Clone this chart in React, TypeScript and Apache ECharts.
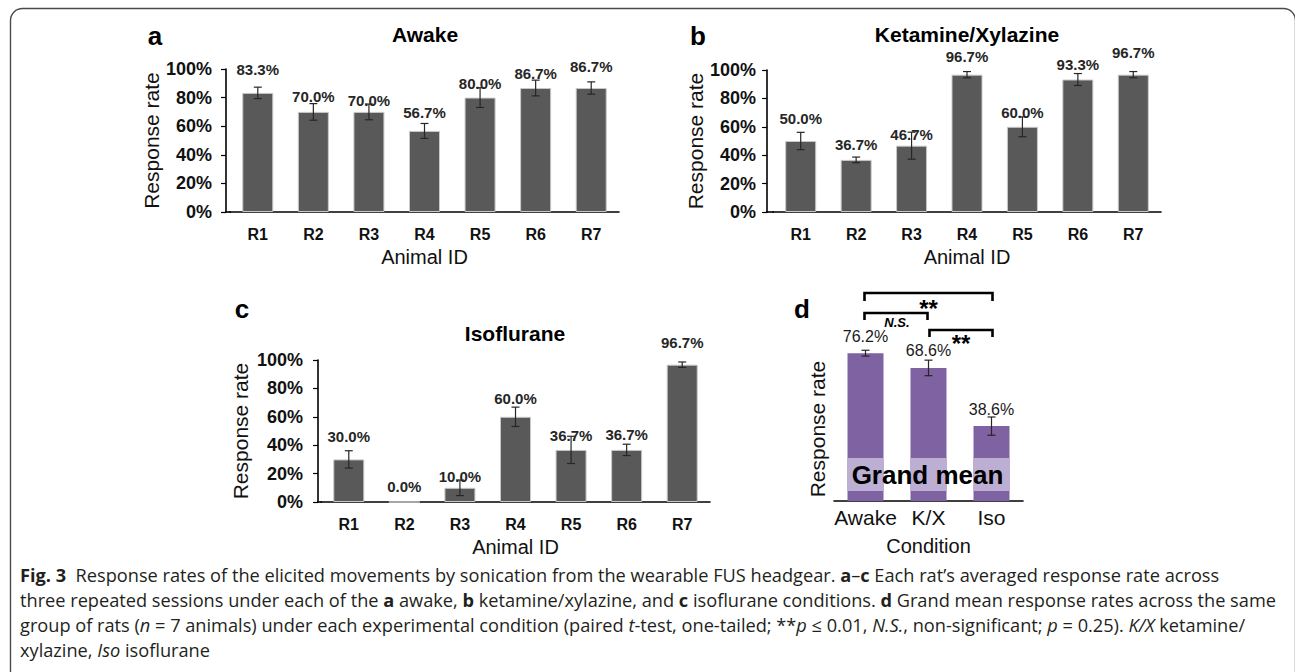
import React, { useEffect, useRef } from "react";
import * as echarts from "echarts";

// ---------- data ----------
const ANIMALS = ["R1", "R2", "R3", "R4", "R5", "R6", "R7"];
const AWAKE = [83.3, 70.0, 70.0, 56.7, 80.0, 86.7, 86.7];
const AWAKE_ERR = [4.0, 5.8, 5.5, 5.2, 6.9, 5.5, 4.3];
const KX = [50.0, 36.7, 46.7, 96.7, 60.0, 93.3, 96.7];
const KX_ERR = [6.1, 2.0, 9.5, 2.2, 7.0, 4.2, 2.2];
const ISO = [30.0, 0.0, 10.0, 60.0, 36.7, 36.7, 96.7];
const ISO_ERR = [6.1, 0, 5.5, 6.8, 9.6, 4.0, 1.9];
const CONDITIONS = ["Awake", "K/X", "Iso"];
const GRAND = [76.2, 68.6, 38.6];
const GRAND_ERR = [1.5, 4.0, 4.7];
const Y_MIN = 0;
const Y_MAX = 100;
const Y_STEP = 20;

// ---------- style / layout constants ----------
const FONT = "'Liberation Sans', Arial, sans-serif";
const CAP_FONT = "'Open Sans', sans-serif";
const CAP_SIZE = 18.2;
const BAR_GRAY = "#595959";
const PURPLE = "#7f62a1";
const BAND = "#bdaed4";
const BAND_FROM = 5.2;
const BAND_TO = 22.2;
// per-category label lift (label centre above bar top), as placed in the original figure
const LABEL_LIFT = [23, 15, 11, 18, 14, 15, 22];

const PANELS = [
  { left: 230, top: 69, width: 389, height: 143, axisX: 226, labelMargin: 14, nameGap: 62, data: AWAKE, err: AWAKE_ERR,
    title: "Awake", titleX: 425, titleY: 34, letter: "a", lx: 155, ly: 36 },
  { left: 773, top: 70, width: 388, height: 142, axisX: 767, labelMargin: 11, nameGap: 59, data: KX, err: KX_ERR,
    title: "Ketamine/Xylazine", titleX: 967, titleY: 34, letter: "b", lx: 698, ly: 36 },
  { left: 321, top: 360, width: 389, height: 142, axisX: 318, labelMargin: 15, nameGap: 67, data: ISO, err: ISO_ERR,
    title: "Isoflurane", titleX: 515, titleY: 333, letter: "c", lx: 242, ly: 309 },
];
const D = { left: 834, top: 307, width: 189, height: 194 };

const CAPTION = [
  "{b|Fig. 3}  Response rates of the elicited movements by sonication from the wearable FUS headgear. {b|a}–{b|c} Each rat’s averaged response rate across",
  "three repeated sessions under each of the {b|a} awake, {b|b} ketamine/xylazine, and {b|c} isoflurane conditions. {b|d} Grand mean response rates across the same",
  "group of rats ({i|n} = 7 animals) under each experimental condition (paired {i|t}-test, one-tailed; **{i|p} ≤ 0.01, {i|N.S.}, non-significant; {i|p} = 0.25). {i|K/X} ketamine/",
  "xylazine, {i|Iso} isoflurane",
];

function errorSeries(xIdx: number, values: number[], errs: number[], cap: number) {
  return {
    type: "custom",
    xAxisIndex: xIdx,
    yAxisIndex: xIdx,
    z: 5,
    silent: true,
    encode: { x: 0, y: 1 },
    data: values.map((v, i) => [i, v, errs[i]]),
    renderItem: (params: any, api: any) => {
      const i = api.value(0);
      const v = api.value(1);
      const e = api.value(2);
      if (!e) return null;
      const top = api.coord([i, v + e]);
      const bot = api.coord([i, v - e]);
      const x = top[0];
      const st = { stroke: "#262626", lineWidth: 1.2 };
      return {
        type: "group",
        children: [
          { type: "line", shape: { x1: x, y1: top[1], x2: x, y2: bot[1] }, style: st },
          { type: "line", shape: { x1: x - cap, y1: top[1], x2: x + cap, y2: top[1] }, style: st },
          { type: "line", shape: { x1: x - cap, y1: bot[1], x2: x + cap, y2: bot[1] }, style: st },
        ],
      };
    },
  };
}

function buildOption() {
  const grid: any[] = [];
  const xAxis: any[] = [];
  const yAxis: any[] = [];
  const series: any[] = [];

  PANELS.forEach((p, k) => {
    grid.push({ left: p.left, top: p.top, width: p.width, height: p.height });
    xAxis.push({
      type: "category",
      gridIndex: k,
      data: ANIMALS,
      name: "Animal ID",
      nameLocation: "middle",
      nameGap: 35,
      nameTextStyle: { fontFamily: FONT, fontSize: 20, color: "#111" },
      axisLine: { lineStyle: { color: "#000", width: 1.6 } },
      axisTick: { show: false },
      axisLabel: { interval: 0, fontFamily: FONT, fontSize: 16, fontWeight: "bold", color: "#111", margin: 14 },
    });
    yAxis.push({
      type: "value",
      gridIndex: k,
      min: Y_MIN,
      max: Y_MAX,
      interval: Y_STEP,
      offset: p.left - p.axisX,
      name: "Response rate",
      nameLocation: "middle",
      nameRotate: 90,
      nameGap: p.nameGap,
      nameTextStyle: { fontFamily: FONT, fontSize: 21, color: "#111" },
      axisLine: { show: true, lineStyle: { color: "#000", width: 1.6 } },
      axisTick: { show: true, inside: false, length: 5, lineStyle: { color: "#000", width: 1.2 } },
      axisLabel: { formatter: "{value}%", fontFamily: FONT, fontSize: 18, fontWeight: "bold", color: "#111", margin: p.labelMargin },
      splitLine: { show: false },
    });
    series.push({
      type: "bar",
      xAxisIndex: k,
      yAxisIndex: k,
      barWidth: 31,
      itemStyle: { color: BAR_GRAY, borderColor: "#c8c8c8", borderWidth: 1 },
      data: p.data.map((v, i) => ({
        value: v,
        label: { distance: LABEL_LIFT[i] - 7.5 },
      })),
      label: {
        show: true,
        position: "top",
        formatter: (d: any) => `${Number(d.value).toFixed(1)}%`,
        fontFamily: FONT,
        fontSize: 15,
        fontWeight: "bold",
        color: "#262626",
      },
    });
    series.push(errorSeries(k, p.data, p.err, 4));
  });

  // panel d
  grid.push({ left: D.left, top: D.top, width: D.width, height: D.height });
  xAxis.push({
    type: "category",
    gridIndex: 3,
    data: CONDITIONS,
    name: "Condition",
    nameLocation: "middle",
    nameGap: 35,
    nameTextStyle: { fontFamily: FONT, fontSize: 20, color: "#111" },
    axisLine: { lineStyle: { color: "#000", width: 1.6 } },
    axisTick: { show: false },
    axisLabel: { interval: 0, fontFamily: FONT, fontSize: 21, color: "#111", margin: 6 },
  });
  yAxis.push({
    type: "value",
    gridIndex: 3,
    min: Y_MIN,
    max: Y_MAX,
    interval: Y_STEP,
    show: true,
    axisLine: { show: false },
    axisTick: { show: false },
    axisLabel: { show: false },
    splitLine: { show: false },
  });
  series.push({
    type: "bar",
    xAxisIndex: 3,
    yAxisIndex: 3,
    barWidth: 36,
    barGap: "-100%",
    itemStyle: { color: PURPLE },
    data: GRAND,
    label: {
      show: true,
      position: "top",
      distance: 9,
      formatter: (d: any) => `${Number(d.value).toFixed(1)}%`,
      fontFamily: FONT,
      fontSize: 16,
      color: "#1a1a1a",
    },
  });
  series.push({
    type: "bar",
    xAxisIndex: 3,
    yAxisIndex: 3,
    stack: "band",
    barWidth: 36,
    barGap: "-100%",
    silent: true,
    z: 3,
    itemStyle: { color: "rgba(0,0,0,0)" },
    data: CONDITIONS.map(() => BAND_FROM),
  });
  series.push({
    type: "bar",
    xAxisIndex: 3,
    yAxisIndex: 3,
    stack: "band",
    barWidth: 36,
    barGap: "-100%",
    silent: true,
    z: 3,
    itemStyle: { color: BAND },
    data: CONDITIONS.map(() => BAND_TO - BAND_FROM),
  });
  series.push(errorSeries(3, GRAND, GRAND_ERR, 4));

  return { animation: false, backgroundColor: "#fff", grid, xAxis, yAxis, series };
}

function buildGraphic(chart: any) {
  const g: any[] = [];
  const txt = (text: string, x: number, y: number, font: any, extra: any = {}) => ({
    type: "text",
    x,
    y,
    z: 10,
    silent: true,
    style: { text, fontFamily: FONT, fill: "#000", align: "center", verticalAlign: "middle", ...font },
    ...extra,
  });

  // frame (rounded top corners, open to the bottom)
  g.push({
    type: "rect",
    shape: { x: 10.5, y: 8.5, width: 1285, height: 800, r: 12 },
    style: { fill: "none", stroke: "#4a4a4a", lineWidth: 1.4 },
    z: 1,
    silent: true,
  });

  PANELS.forEach((p) => {
    g.push(txt(p.letter, p.lx, p.ly, { fontSize: 26, fontWeight: "bold" }));
    g.push(txt(p.title, p.titleX, p.titleY, { fontSize: 21, fontWeight: "bold" }));
    // join x baseline to the offset y axis
    const yb = p.top + p.height;
    g.push({
      type: "line",
      shape: { x1: p.axisX - 1, y1: yb, x2: p.left + 1, y2: yb },
      style: { stroke: "#000", lineWidth: 1.6 },
      z: 10,
      silent: true,
    });
  });

  // panel d
  g.push(txt("d", 802, 309, { fontSize: 26, fontWeight: "bold" }));
  g.push(txt("Response rate", 817, 429, { fontSize: 21, fill: "#111" }, { rotation: Math.PI / 2 }));
  const cx = CONDITIONS.map((_, i) => chart.convertToPixel({ xAxisIndex: 3 }, i));
  const bandMid = chart.convertToPixel({ yAxisIndex: 3 }, (BAND_FROM + BAND_TO) / 2);
  g.push(txt("Grand mean", (cx[0] + cx[2]) / 2 - 1, bandMid + 1, { fontSize: 26, fontWeight: "bold" }));

  const bracket = (x1: number, x2: number, y: number, h: number) => ({
    type: "polyline",
    shape: { points: [[x1, y + h], [x1, y], [x2, y], [x2, y + h]] },
    style: { stroke: "#000", lineWidth: 2.6, fill: "none" },
    z: 10,
    silent: true,
  });
  g.push(bracket(cx[0] - 1, cx[2] + 1, 293, 8));
  g.push(bracket(cx[0] - 1, cx[1] - 1, 313, 7));
  g.push(bracket(cx[1] + 1, cx[2] + 1, 330, 7));
  g.push(txt("**", (cx[0] + cx[2]) / 2, 308, { fontSize: 24, fontWeight: "bold" }));
  g.push(txt("N.S.", (cx[0] + cx[1]) / 2, 322, { fontSize: 13, fontWeight: "bold", fontStyle: "italic" }));
  g.push(txt("**", (cx[1] + cx[2]) / 2 + 1, 343, { fontSize: 24, fontWeight: "bold" }));

  // caption
  const capY = [575, 600, 625, 650];
  CAPTION.forEach((line, i) => {
    g.push({
      type: "text",
      x: 20,
      y: capY[i],
      z: 10,
      silent: true,
      style: {
        text: line,
        fontFamily: CAP_FONT,
        fontSize: CAP_SIZE,
        fill: "#231f20",
        align: "left",
        verticalAlign: "middle",
        rich: {
          b: { fontFamily: CAP_FONT, fontSize: CAP_SIZE, fontWeight: "bold", fill: "#231f20" },
          i: { fontFamily: CAP_FONT, fontSize: CAP_SIZE, fontStyle: "italic", fill: "#231f20" },
        },
      },
    });
  });
  return g;
}

export default function App() {
  const ref = useRef<HTMLDivElement>(null);
  useEffect(() => {
    document.body.style.margin = "0";
    document.body.style.overflow = "hidden";
    if (!ref.current) return;
    const chart = echarts.init(ref.current, null, { renderer: "svg" });
    chart.setOption(buildOption());
    chart.setOption({ graphic: buildGraphic(chart) });
    return () => chart.dispose();
  }, []);
  return <div ref={ref} style={{ width: 1295, height: 672, background: "#fff" }} />;
}
